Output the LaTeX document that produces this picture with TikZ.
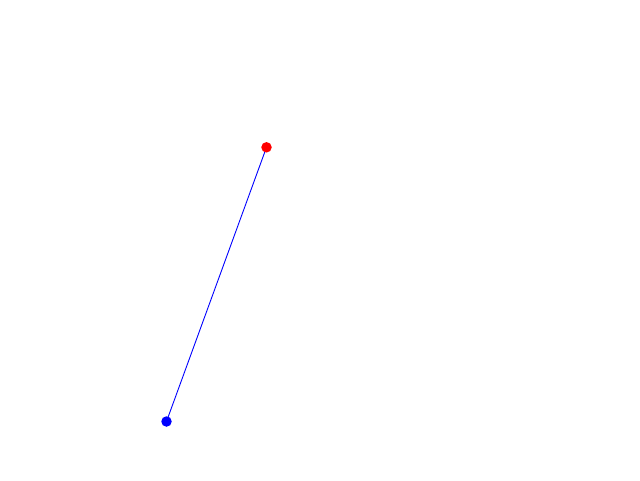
\documentclass[tikz,border=0pt]{standalone}
\usetikzlibrary{backgrounds}
\begin{document}
\begin{tikzpicture}[x=1pt,y=-1pt,
  dot/.style={circle,inner sep=0pt,minimum size=10.5pt,draw=none},
  link/.style={blue,line width=0.9pt}]
\useasboundingbox (0,0) rectangle (640,480);
\node[dot,fill=red] (r) at (266.5,147.3) {};
\node[dot,fill=blue] (b) at (166.5,421.5) {};
\begin{pgfonlayer}{background}
\fill[white] (0,0) rectangle (640,480);
\draw[link] (b.center) -- (r.center);
\end{pgfonlayer}
\end{tikzpicture}
\end{document}
